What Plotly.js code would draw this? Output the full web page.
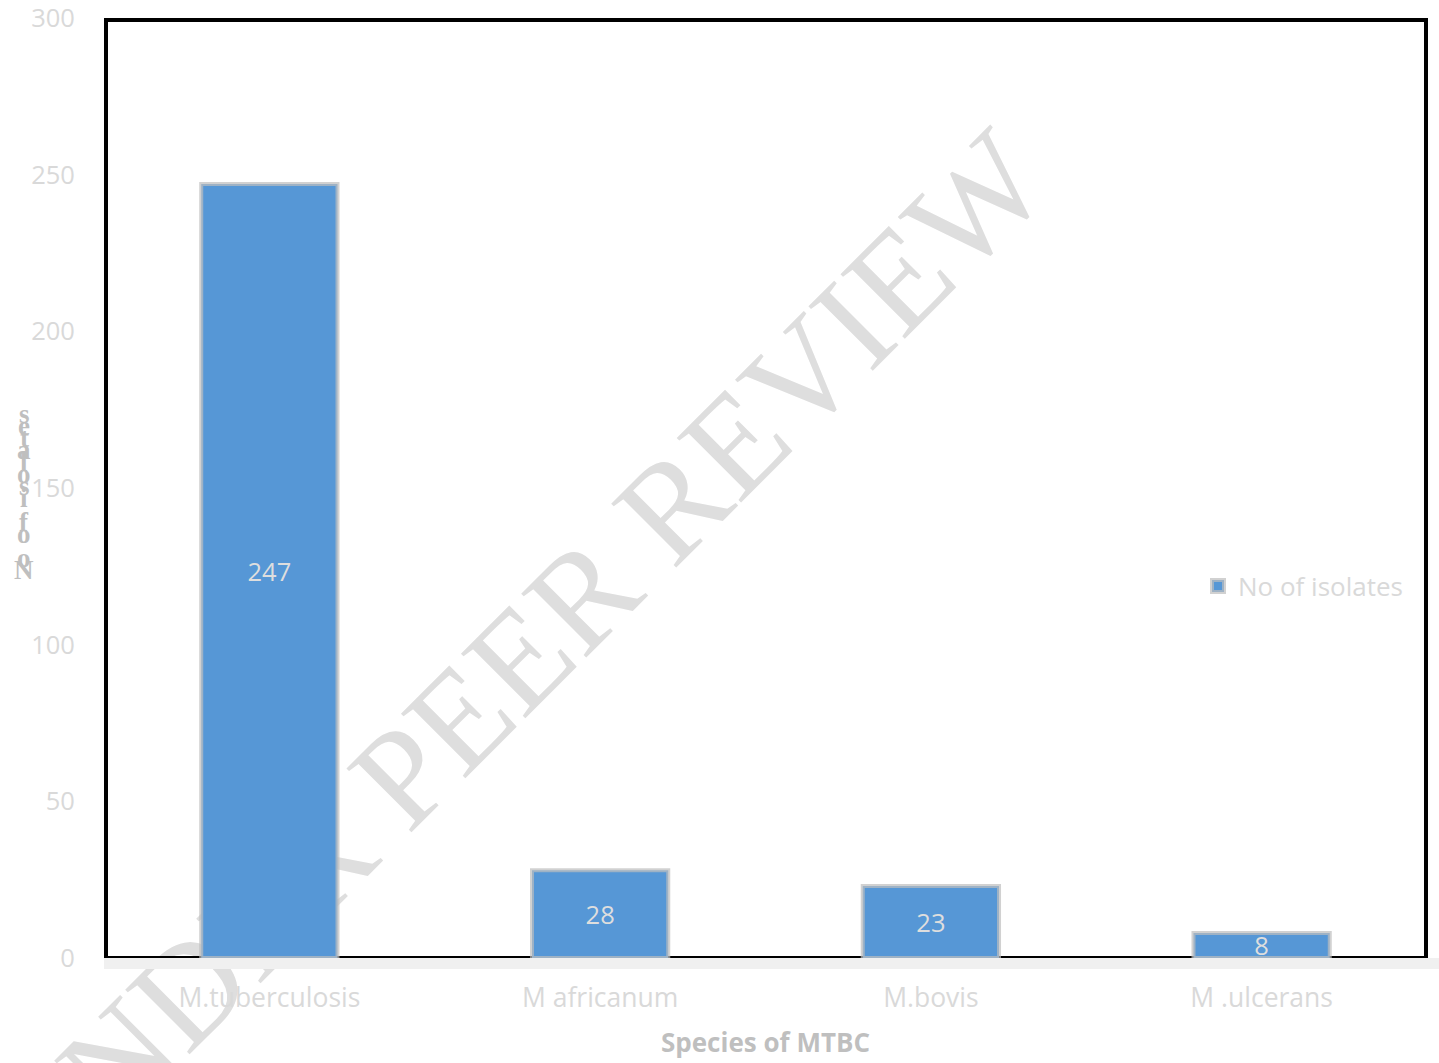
<!DOCTYPE html>
<html>
<head>
<meta charset="utf-8">
<script src="https://cdn.plot.ly/plotly-3.0.1.min.js"></script>
<style>html,body{margin:0;padding:0;background:#fff;}#chart{width:1439px;height:1063px;}</style>
</head>
<body>
<div id="chart"></div>
<script>
// ---- data ----
const categories = ['M.tuberculosis', 'M africanum', 'M.bovis', 'M .ulcerans'];
const isolates = [247, 28, 23, 8];
const seriesName = 'No of isolates';
const yTickValues = [0, 50, 100, 150, 200, 250, 300];
const xTitle = 'Species of MTBC';
const yTitle = 'No of isolates';
const watermark = 'UNDER PEER REVIEW';

const W = 1439, H = 1063;
const M = {l: 104, r: 12, t: 18, b: 105};
const plotH = H - M.t - M.b;
const plotW = W - M.l - M.r;
const px2py = py => (H - M.b - py) / plotH;
const px2px = px => (px - M.l) / plotW;

const sansFont = '"Open Sans", "Noto Sans", sans-serif';
const lightGray = '#d9d9d9';

const trace = {
  type: 'bar',
  x: categories,
  y: isolates,
  name: seriesName,
  text: isolates.map(String),
  textposition: 'inside',
  insidetextanchor: 'middle',
  textangle: 0,
  constraintext: 'none',
  textfont: {family: sansFont, size: 25.5, color: '#dedede'},
  marker: {color: '#5697d6', line: {color: 'rgba(190,190,190,0.7)', width: 4}},
  hoverinfo: 'x+y'
};

// stacked, reversed y-axis title letters (as in the source figure)
const yTitleChars = yTitle.split('').reverse();
const annotations = yTitleChars.map((ch, i) => ({
  text: ch === ' ' ? '' : ch,
  xref: 'paper', yref: 'paper',
  x: px2px(24), y: px2py(414 + i * 12.0),
  xanchor: 'center', yanchor: 'middle',
  showarrow: false,
  font: {family: '"Liberation Serif", serif', size: 27, color: '#bfbfbf', weight: 'bold'}
}));

const shapes = [
  // watermark (below data)
  {type: 'rect', xref: 'paper', yref: 'paper',
   x0: px2px(501), x1: px2px(511), y0: px2py(655), y1: px2py(645),
   line: {width: 0}, fillcolor: 'rgba(0,0,0,0)', layer: 'below',
   label: {text: watermark, textangle: -45, textposition: 'middle center',
           font: {family: '"Liberation Serif", serif', size: 139, color: '#dedede'}}},
  // grey band under the axis
  {type: 'rect', xref: 'paper', yref: 'paper', x0: 0, x1: px2px(1439), y0: px2py(969), y1: 0,
   line: {width: 0}, fillcolor: '#f0f0f0', layer: 'below'},
  // thin base line
  {type: 'line', xref: 'paper', yref: 'paper', x0: 0, x1: 1, y0: 0.001, y1: 0.001,
   line: {color: '#000', width: 2}, layer: 'below'},
  // frame: left, top, right
  {type: 'path', xref: 'paper', yref: 'paper',
   path: `M ${px2px(106)} 0 L ${px2px(106)} ${px2py(20)} L ${px2px(1426)} ${px2py(20)} L ${px2px(1426)} 0`,
   line: {color: '#000', width: 4}, layer: 'above'}
];

const layout = {
  width: W, height: H,
  margin: M,
  paper_bgcolor: '#ffffff',
  plot_bgcolor: 'rgba(0,0,0,0)',
  bargap: 0.588,
  showlegend: true,
  legend: {x: px2px(1198), y: px2py(586), xanchor: 'left', yanchor: 'middle',
           font: {family: sansFont, size: 26, color: lightGray}, bgcolor: 'rgba(0,0,0,0)',
           itemwidth: 30},
  xaxis: {
    type: 'category',
    showgrid: false, zeroline: false, showline: false,
    ticks: 'outside', ticklen: 16, tickcolor: 'rgba(0,0,0,0)',
    tickfont: {family: sansFont, size: 26.5, color: lightGray},
    title: {text: xTitle, standoff: 20,
            font: {family: sansFont, size: 26, color: '#bfbfbf', weight: 'bold'}}
  },
  yaxis: {
    range: [0, 300],
    tickvals: yTickValues,
    ticklabeloverflow: 'allow',
    showgrid: false, zeroline: false, showline: false,
    ticks: 'outside', ticklen: 23, tickcolor: 'rgba(0,0,0,0)',
    tickfont: {family: sansFont, size: 25.5, color: lightGray}
  },
  annotations: annotations,
  shapes: shapes
};

Plotly.newPlot('chart', [trace], layout, {displayModeBar: false, staticPlot: true});
</script>
</body>
</html>
